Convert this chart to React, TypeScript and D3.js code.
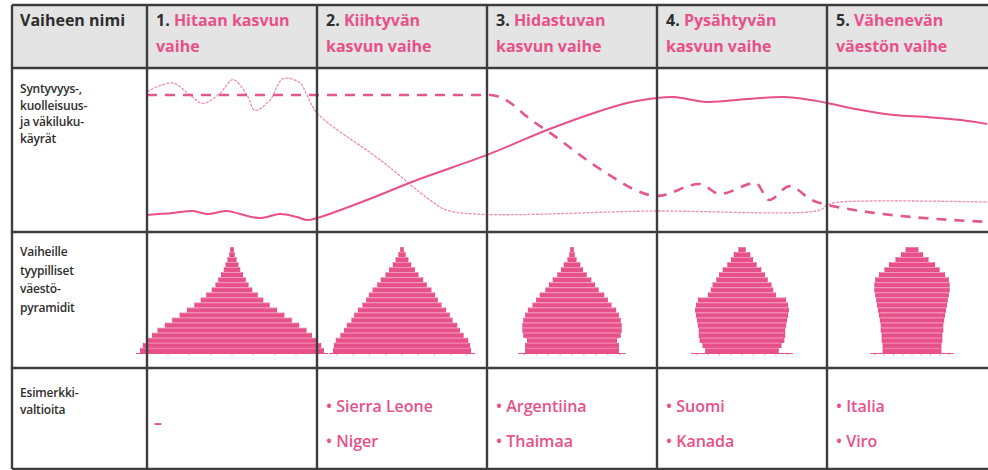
import React from 'react';
import * as d3 from 'd3';

// Taulukon sisältö
const stageNumbers = ['1.', '2.', '3.', '4.', '5.'];
const stageTitles = [
    ['Hitaan kasvun', 'vaihe'],
    ['Kiihtyvän', 'kasvun vaihe'],
    ['Hidastuvan', 'kasvun vaihe'],
    ['Pysähtyvän', 'kasvun vaihe'],
    ['Vähenevän', 'väestön vaihe'],
];
const rowLabels = [
    ['Vaiheen nimi'],
    ['Syntyvyys-,', 'kuolleisuus-', 'ja väkiluku-', 'käyrät'],
    ['Vaiheille', 'tyypilliset', 'väestö-', 'pyramidit'],
    ['Esimerkki-', 'valtioita'],
];
const exampleCountries = [
    [],
    ['Sierra Leone', 'Niger'],
    ['Argentiina', 'Thaimaa'],
    ['Suomi', 'Kanada'],
    ['Italia', 'Viro'],
];

// Käyrät: [vaihe (0-5), arvo (0-100)]
const birthRate: [number, number][] = [
    [0, 83.5], [2.02, 83.5], [2.1, 81.1], [2.26, 68.3], [2.38, 59.8], [2.5, 50.6],
    [2.62, 41.5], [2.74, 33.5], [2.86, 26.2], [3.0, 22.0], [3.25, 29.3], [3.37, 23.2],
    [3.58, 29.9], [3.66, 19.5], [3.78, 28.0], [3.91, 19.5], [4.0, 16.5], [4.95, 6.1],
];
const deathRate: [number, number][] = [
    [0, 85.5], [0.147, 90.9], [0.253, 83.5], [0.329, 78.4], [0.429, 84.5], [0.506, 92.9],
    [0.588, 83.5], [0.635, 74.2], [0.724, 80.5], [0.8, 93.5], [0.9, 90.9], [0.941, 83.5],
    [1.0, 72.6], [1.388, 42.7], [1.665, 19.5], [1.782, 12.8], [3.0, 12.8], [3.96, 13.4],
    [4.0, 16.5], [4.08, 18.3], [4.95, 18.3],
];
const population: [number, number][] = [
    [0, 10.4], [0.153, 11.6], [0.271, 12.8], [0.353, 11.0], [0.471, 12.8], [0.547, 11.0],
    [0.665, 8.5], [0.782, 11.0], [0.882, 9.1], [0.941, 7.3], [1.0, 8.5], [1.294, 19.5],
    [1.588, 31.7], [2.0, 47.0], [2.353, 62.2], [2.629, 72.6], [2.824, 78.7], [3.0, 81.7],
    [3.1, 82.3], [3.294, 79.3], [3.529, 81.1], [3.747, 82.3], [3.906, 80.5], [4.0, 78.7],
    [4.2, 74.4], [4.394, 71.3], [4.588, 70.1], [4.788, 68.3], [4.941, 65.9],
];

// Väestöpyramidit: ikäryhmät alhaalta ylös (suhteellinen koko)
const pyramid1 = [100, 97, 93, 87, 81, 73, 65, 57, 49, 41, 34, 28, 22, 18, 15, 12, 9, 7, 5, 3, 2];
const pyramid2 = [75, 74, 72, 67, 63, 60, 55, 52, 48, 43, 39, 36, 32, 27, 23, 18, 14, 10, 7, 4, 2];
const pyramid3 = [51, 51, 49, 53, 54, 54, 53, 51, 48, 43, 39, 35, 29, 25, 21, 16, 12, 9, 5, 3, 2];
const pyramid4 = [40, 43, 46, 47, 47, 48, 49, 50, 51, 50, 48, 37, 34, 32, 28, 25, 21, 16, 12, 9, 4];
const pyramid5 = [32, 32, 33, 33, 34, 34, 35, 36, 37, 38, 39, 40, 41, 41, 40, 36, 30, 25, 18, 12, 7];
const pyramids = [pyramid1, pyramid2, pyramid3, pyramid4, pyramid5];

const PINK = '#e8508a';
const DARK = '#2e2e2e';
const FONT = "'Open Sans', sans-serif";

const App: React.FC = () => {
    const width = 988;
    const height = 470;
    const left = 12;
    const rows = [5, 68, 232, 368, 469]; // rivien rajat

    // Vaiheet vaakasuunnassa
    const x = d3.scaleLinear().domain([0, 5]).range([147, 997]);
    // Käyrien arvot
    const y = d3.scaleLinear().domain([0, 100]).range([rows[2], rows[1]]);

    const curve = d3.line<[number, number]>()
        .x(d => x(d[0]))
        .y(d => y(d[1]))
        .curve(d3.curveCatmullRom.alpha(0.5));
    const straight = d3.line<[number, number]>()
        .x(d => x(d[0]))
        .y(d => y(d[1]))
        .curve(d3.curveMonotoneX);

    // Pyramidien mittakaavat
    const ages = d3.range(21);
    const band = d3.scaleBand<number>().domain(ages).range([353, 247]).paddingInner(0);
    const w = d3.scaleLinear().domain([0, 100]).range([0, 92]);

    return (
        <svg width={width} height={height} style={{ position: 'absolute', left: 0, top: 0, background: '#fff' }}>
            <defs>
                <clipPath id="chartClip">
                    <rect x={x(0)} y={rows[1]} width={width - x(0)} height={rows[2] - rows[1]} />
                </clipPath>
            </defs>

            {/* otsikkorivin tausta */}
            <rect x={left} y={rows[0]} width={width - left} height={rows[1] - rows[0]} fill="#e4e4e4" />

            {/* käyrät */}
            <g clipPath="url(#chartClip)" fill="none">
                <path d={curve(deathRate) || ''} stroke="#ef8db2" strokeWidth={1.3} strokeDasharray="3 1.2" />
                <path d={straight(birthRate) || ''} stroke="#e2588d" strokeWidth={2.6} strokeDasharray="10 8" />
                <path d={curve(population) || ''} stroke={PINK} strokeWidth={2} />
            </g>

            {/* pyramidit */}
            {pyramids.map((p, i) => {
                const cx = x(i + 0.5);
                const maxW = w(d3.max(p) || 0) + 4;
                return (
                    <g key={'p' + i}>
                        <line x1={cx - maxW} x2={cx + maxW} y1={353.5} y2={353.5} stroke={PINK} strokeWidth={1} />
                        {d3.range(-4, 5).map(t => (
                            <line key={t} x1={cx + t * maxW / 4.5} x2={cx + t * maxW / 4.5} y1={353.5} y2={355.5}
                                stroke={PINK} strokeWidth={0.8} opacity={0.7} />
                        ))}
                        {p.map((v, a) => (
                            <rect key={a} x={cx - w(v)} width={w(v) * 2} y={band(a)} height={band.bandwidth()} fill={PINK} />
                        ))}
                        {p.map((v, a) => (
                            <line key={'s' + a} x1={cx - w(v) + 1} x2={cx + w(v) - 1} y1={(band(a) || 0) + 0.4} y2={(band(a) || 0) + 0.4}
                                stroke="#fff" strokeWidth={0.7} opacity={0.45} />
                        ))}
                    </g>
                );
            })}

            {/* ruudukko */}
            <g stroke="#3d3d3d" strokeWidth={2.4}>
                {rows.map((r, i) => (
                    <line key={'h' + i} x1={left} x2={width} y1={r} y2={r} />
                ))}
                {[left, ...d3.range(5).map(i => x(i))].map((c, i) => (
                    <line key={'v' + i} x1={c} x2={c} y1={rows[0]} y2={rows[4]} />
                ))}
            </g>

            {/* rivien otsikot */}
            <text x={20} y={26} fontFamily={FONT} fontWeight={700} fontSize={16} fill={DARK}>{rowLabels[0][0]}</text>
            {rowLabels[1].map((t, i) => (
                <text key={'r1' + i} x={20} y={93 + i * 16.5} fontFamily={FONT} fontWeight={600} fontSize={12} fill={DARK} letterSpacing={-0.2}>{t}</text>
            ))}
            {rowLabels[2].map((t, i) => (
                <text key={'r2' + i} x={20} y={256 + i * 18.5} fontFamily={FONT} fontWeight={600} fontSize={12} fill={DARK} letterSpacing={-0.2}>{t}</text>
            ))}
            {rowLabels[3].map((t, i) => (
                <text key={'r3' + i} x={20} y={397 + i * 16.5} fontFamily={FONT} fontWeight={600} fontSize={12} fill={DARK} letterSpacing={-0.2}>{t}</text>
            ))}

            {/* vaiheiden nimet */}
            {stageTitles.map((t, i) => (
                <text key={'s' + i} x={x(i) + 9} fontFamily={FONT} fontWeight={700} fontSize={16}>
                    <tspan x={x(i) + 9} y={26} fill={DARK}>{stageNumbers[i]} </tspan>
                    <tspan fill={PINK}>{t[0]}</tspan>
                    <tspan x={x(i) + 9} y={52} fill={PINK}>{t[1]}</tspan>
                </text>
            ))}

            {/* esimerkkivaltiot */}
            <text x={x(0) + 7} y={428} fontFamily={FONT} fontWeight={700} fontSize={16} fill={PINK}>–</text>
            {exampleCountries.map((list, i) => list.map((c, j) => (
                <text key={'c' + i + j} x={x(i) + 9} y={412 + j * 35} fontFamily={FONT} fontWeight={600} fontSize={16} fill={PINK}>{'• ' + c}</text>
            )))}
        </svg>
    );
};

export default App;
